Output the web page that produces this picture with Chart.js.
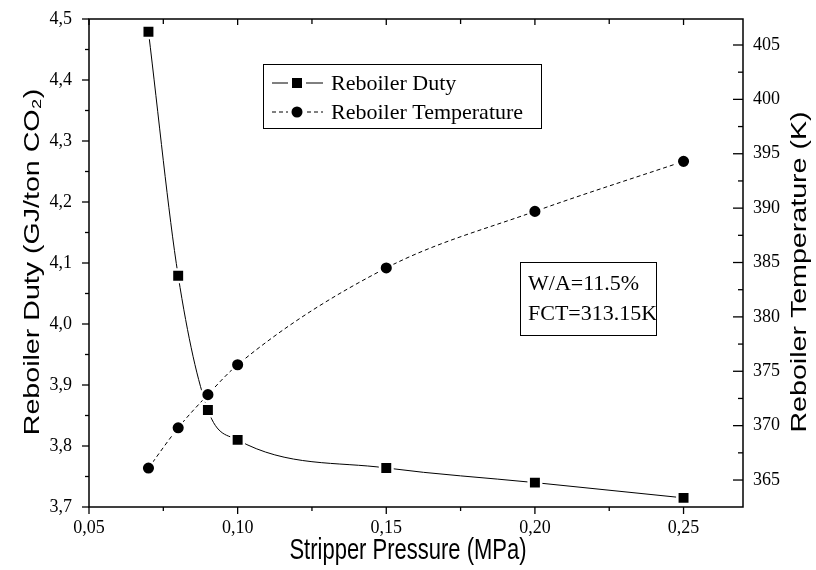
<!DOCTYPE html>
<html><head><meta charset="utf-8">
<script src="https://cdn.jsdelivr.net/npm/chart.js@4/dist/chart.umd.min.js"></script>
<style>html,body{margin:0;padding:0;background:#fff}#wrap{width:816px;height:570px}</style>
</head><body><div id="wrap"><canvas id="c" width="816" height="570"></canvas></div>
<script>
const pressure = [0.07, 0.08, 0.09, 0.10, 0.15, 0.20, 0.25];
const reboilerDuty = [4.479, 4.079, 3.859, 3.810, 3.764, 3.740, 3.715];
const reboilerTemp = [366.1, 369.8, 372.85, 375.6, 384.5, 389.7, 394.3];
const xTicks = [0.05, 0.10, 0.15, 0.20, 0.25];
const xMinorTicks = [0.075, 0.125, 0.175, 0.225];
const yLeftTicks = [3.7, 3.8, 3.9, 4.0, 4.1, 4.2, 4.3, 4.4, 4.5];
const yLeftMinorTicks = [3.75, 3.85, 3.95, 4.05, 4.15, 4.25, 4.35, 4.45];
const yRightTicks = [365, 370, 375, 380, 385, 390, 395, 400, 405];
const yRightMinorTicks = [367.5, 372.5, 377.5, 382.5, 387.5, 392.5, 397.5, 402.5];
const xTitle = 'Stripper Pressure (MPa)';
const yLeftTitle = 'Reboiler Duty (GJ/ton CO\u2082)';
const yRightTitle = 'Reboiler Temperature (K)';
const seriesLabels = ['Reboiler Duty', 'Reboiler Temperature'];
const noteLines = ['W/A=11.5%', 'FCT=313.15K'];

const SERIF = '"Liberation Serif", "Times New Roman", serif';
const SANS = '"Liberation Sans", Arial, sans-serif';
const comma = (v, d) => Number(v).toFixed(d).replace('.', ',');
const noPadV = s => { s.paddingTop = 0; s.paddingBottom = 0; };

const decorPlugin = {
  id: 'decor',
  afterDraw(chart) {
    const ctx = chart.ctx;
    const a = chart.chartArea;
    const sx = chart.scales.x, sy = chart.scales.y, sy1 = chart.scales.y1;
    const line = (x1, y1, x2, y2) => { ctx.beginPath(); ctx.moveTo(x1, y1); ctx.lineTo(x2, y2); ctx.stroke(); };

    // frame and ticks
    ctx.save();
    ctx.strokeStyle = '#000';
    ctx.lineWidth = 1.5;
    ctx.strokeRect(a.left, a.top, a.right - a.left, a.bottom - a.top);
    ctx.lineWidth = 1.3;
    xTicks.forEach(v => { const p = sx.getPixelForValue(v); line(p, a.bottom, p, a.bottom + 7); line(p, a.top, p, a.top + 6); });
    xMinorTicks.forEach(v => { const p = sx.getPixelForValue(v); line(p, a.bottom, p, a.bottom + 4); line(p, a.top, p, a.top + 5); });
    yLeftTicks.forEach(v => { const p = sy.getPixelForValue(v); line(a.left - 7, p, a.left, p); });
    yLeftMinorTicks.forEach(v => { const p = sy.getPixelForValue(v); line(a.left - 4, p, a.left, p); });
    yRightTicks.forEach(v => { const p = sy1.getPixelForValue(v); line(a.right - 10, p, a.right, p); });
    yRightMinorTicks.forEach(v => { const p = sy1.getPixelForValue(v); line(a.right - 5, p, a.right, p); });
    ctx.restore();

    // axis titles (tall, narrow lettering as in the reference)
    ctx.save();
    ctx.fillStyle = '#000';
    ctx.textAlign = 'center';
    ctx.textBaseline = 'middle';
    ctx.font = '22px ' + SANS;
    ctx.save(); ctx.translate(408, 551); ctx.scale(1, 1.3); ctx.fillText(xTitle, 0, 0); ctx.restore();
    ctx.save(); ctx.translate(33, 262); ctx.rotate(-Math.PI / 2); ctx.scale(1.3, 1); ctx.fillText(yLeftTitle, 0, 0); ctx.restore();
    ctx.save(); ctx.translate(800, 272); ctx.rotate(-Math.PI / 2); ctx.scale(1.3, 1); ctx.fillText(yRightTitle, 0, 0); ctx.restore();
    ctx.restore();

    // legend
    ctx.save();
    ctx.strokeStyle = '#000';
    ctx.lineWidth = 1;
    ctx.strokeRect(263.5, 64.5, 278, 64);
    ctx.font = '22px ' + SERIF;
    ctx.fillStyle = '#000';
    ctx.textBaseline = 'middle';
    ctx.textAlign = 'left';
    const rows = [83, 112];
    seriesLabels.forEach((lab, i) => {
      const ds = chart.data.datasets[i];
      const y = rows[i];
      ctx.setLineDash(ds.borderDash || []);
      ctx.lineWidth = 1;
      line(272, y, 323, y);
      ctx.setLineDash([]);
      ctx.fillStyle = '#fff';
      ctx.fillRect(288, y - 8, 18, 16);
      ctx.fillStyle = '#000';
      if (ds.pointStyle === 'rect') {
        ctx.fillRect(297 - 5, y - 5, 10, 10);
      } else {
        ctx.beginPath(); ctx.arc(297, y, 5.5, 0, Math.PI * 2); ctx.fill();
      }
      ctx.fillText(lab, 331, y + 1);
    });
    ctx.restore();

    // annotation
    ctx.save();
    ctx.font = '22px ' + SERIF;
    ctx.fillStyle = '#000';
    ctx.textBaseline = 'middle';
    ctx.textAlign = 'left';
    ctx.strokeStyle = '#000';
    ctx.lineWidth = 1;
    ctx.strokeRect(520.5, 262.5, 136, 73);
    ctx.fillText(noteLines[0], 528, 284);
    ctx.fillText(noteLines[1], 528, 314);
    ctx.restore();
  }
};

new Chart(document.getElementById('c'), {
  type: 'line',
  data: {
    datasets: [
      {
        label: seriesLabels[0],
        data: pressure.map((x, i) => ({ x, y: reboilerDuty[i] })),
        yAxisID: 'y', order: 1,
        borderColor: '#000', backgroundColor: '#000', borderWidth: 1,
        pointStyle: 'rect', pointRadius: 8.8, pointBorderWidth: 2.5, pointBorderColor: '#fff', pointBackgroundColor: '#000',
        cubicInterpolationMode: 'monotone', fill: false
      },
      {
        label: seriesLabels[1],
        data: pressure.map((x, i) => ({ x, y: reboilerTemp[i] })),
        yAxisID: 'y1', order: 0,
        borderColor: '#000', backgroundColor: '#000', borderWidth: 1,
        borderDash: [4, 3],
        pointStyle: 'circle', pointRadius: 6.8, pointBorderWidth: 2.5, pointBorderColor: '#fff', pointBackgroundColor: '#000',
        cubicInterpolationMode: 'monotone', fill: false
      }
    ]
  },
  options: {
    responsive: false, animation: false, devicePixelRatio: 1,
    layout: { padding: { top: 19, left: 0, right: 0, bottom: 0 } },
    plugins: { legend: { display: false }, tooltip: { enabled: false } },
    scales: {
      x: {
        type: 'linear', min: 0.05, max: 0.27,
        afterBuildTicks: s => { s.ticks = xTicks.map(v => ({ value: v })); },
        afterFit: s => { s.height = 63; s.paddingLeft = 0; s.paddingRight = 0; },
        grid: { display: false, drawTicks: false }, border: { display: false },
        ticks: { color: '#000', font: { family: SERIF, size: 18 }, padding: 10, maxRotation: 0, autoSkip: false, callback: v => comma(v, 2) },
        title: { display: false, text: xTitle }
      },
      y: {
        type: 'linear', position: 'left', min: 3.7, max: 4.5,
        afterBuildTicks: s => { s.ticks = yLeftTicks.map(v => ({ value: v })); },
        afterFit: s => { s.width = 89; noPadV(s); },
        grid: { display: false, drawTicks: false }, border: { display: false },
        ticks: { color: '#000', font: { family: SERIF, size: 18 }, padding: 17, autoSkip: false, callback: v => comma(v, 1) },
        title: { display: false, text: yLeftTitle }
      },
      y1: {
        type: 'linear', position: 'right', min: 362.52, max: 407.39,
        afterBuildTicks: s => { s.ticks = yRightTicks.map(v => ({ value: v })); },
        afterFit: s => { s.width = 73; noPadV(s); },
        grid: { display: false, drawTicks: false }, border: { display: false },
        ticks: { color: '#000', font: { family: SERIF, size: 18 }, padding: 10, autoSkip: false, callback: v => String(v) },
        title: { display: false, text: yRightTitle }
      }
    }
  },
  plugins: [decorPlugin]
});
</script>
</body></html>
